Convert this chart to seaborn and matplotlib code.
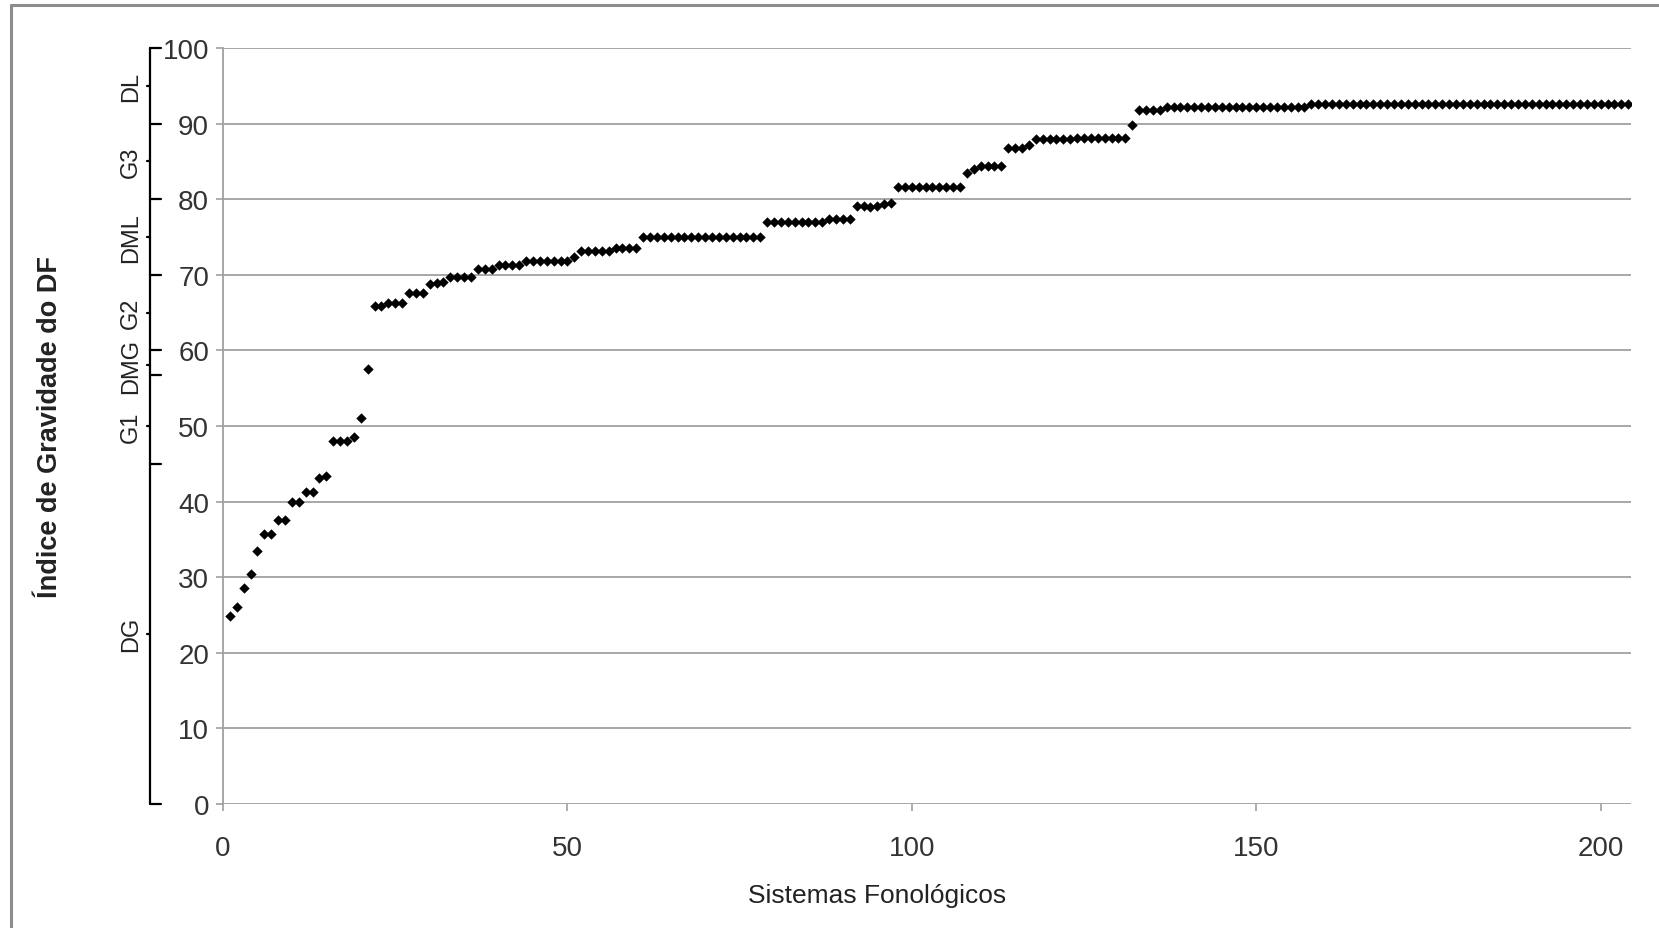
import numpy as np
import pandas as pd
import matplotlib.pyplot as plt
import seaborn as sns
from matplotlib.lines import Line2D
import matplotlib.transforms as mtransforms

# Índice de gravidade (sorted) per phonological system
indice = [
    24.8, 26.0, 28.6, 30.4, 33.5, 35.7, 35.7, 37.6, 37.6, 40.0,
    40.0, 41.2, 41.2, 43.1, 43.4, 48.0, 48.0, 48.0, 48.6, 51.0,
    57.5, 65.9, 65.9, 66.2, 66.2, 66.2, 67.6, 67.6, 67.6, 68.8,
    68.9, 69.0, 69.7, 69.7, 69.7, 69.7, 70.8, 70.8, 70.8, 71.3,
    71.3, 71.3, 71.3, 71.8, 71.8, 71.8, 71.8, 71.8, 71.8, 71.8,
    72.4, 73.2, 73.2, 73.2, 73.2, 73.2, 73.5, 73.5, 73.5, 73.5,
    75.0, 75.0, 75.0, 75.0, 75.0, 75.0, 75.0, 75.0, 75.0, 75.0,
    75.0, 75.0, 75.0, 75.0, 75.0, 75.0, 75.0, 75.0, 77.0, 77.0,
    77.0, 77.0, 77.0, 77.0, 77.0, 77.0, 77.0, 77.4, 77.4, 77.4,
    77.4, 79.1, 79.1, 78.9, 79.1, 79.4, 79.5, 81.6, 81.6, 81.6,
    81.6, 81.6, 81.6, 81.6, 81.6, 81.6, 81.6, 83.4, 84.0, 84.4,
    84.4, 84.4, 84.4, 86.8, 86.8, 86.8, 87.2, 87.9, 87.9, 87.9,
    87.9, 87.9, 87.9, 88.1, 88.1, 88.1, 88.1, 88.1, 88.1, 88.1,
    88.1, 89.8, 91.8, 91.8, 91.8, 91.8, 92.2, 92.2, 92.2, 92.2,
    92.2, 92.2, 92.2, 92.2, 92.2, 92.2, 92.2, 92.2, 92.2, 92.2,
    92.2, 92.2, 92.2, 92.2, 92.2, 92.2, 92.2, 92.6, 92.6, 92.6,
    92.6, 92.6, 92.6, 92.6, 92.6, 92.6, 92.6, 92.6, 92.6, 92.6,
    92.6, 92.6, 92.6, 92.6, 92.6, 92.6, 92.6, 92.6, 92.6, 92.6,
    92.6, 92.6, 92.6, 92.6, 92.6, 92.6, 92.6, 92.6, 92.6, 92.6,
    92.6, 92.6, 92.6, 92.6, 92.6, 92.6, 92.6, 92.6, 92.6, 92.6,
    92.6, 92.6, 92.6, 92.6,
]
sistemas = np.arange(1, len(indice) + 1)

# severity bands on the left bracket
faixas = ['DG', 'G1', 'DMG', 'G2', 'DML', 'G3', 'DL']
limites = [0, 45, 56.7, 60, 70, 80, 90, 100]
centros = [22.5, 50, 58, 65, 75, 85, 95]

df = pd.DataFrame({'Sistema': sistemas, 'Indice': indice})

sns.set_style('white')
plt.rcParams['font.family'] = ['Liberation Sans', 'DejaVu Sans']

fig = plt.figure(figsize=(16.59, 9.29), dpi=100)
ax = fig.add_axes([0.1344, 0.1335, 0.8487, 0.8138])

sns.scatterplot(data=df, x='Sistema', y='Indice', marker='D', color='black',
                s=28, linewidth=0, ax=ax, zorder=3)

ax.set_xlim(0, 204.4)
ax.set_ylim(0, 100)
ax.set_xticks([0, 50, 100, 150, 200])
ax.set_yticks(range(0, 101, 10))
ax.grid(axis='y', color='#a0a0a0', linewidth=1.3)
ax.set_axisbelow(True)
for side in ['top', 'right', 'bottom']:
    ax.spines[side].set_visible(False)
ax.spines['left'].set_color('#a0a0a0')
ax.spines['left'].set_linewidth(1.3)
ax.tick_params(axis='y', length=5, width=1.2, color='#a0a0a0', pad=5,
               labelsize=20, labelcolor='#333333', left=True)
ax.tick_params(axis='x', length=5, width=1.2, color='#a0a0a0', pad=17,
               labelsize=20, labelcolor='#333333', bottom=True)

ax.set_xlabel('Sistemas Fonológicos', fontsize=19, color='#222222')
ax.xaxis.set_label_coords(0.4645, -0.105)
ax.set_ylabel('Índice de Gravidade do DF', fontsize=19.5, fontweight='bold',
              color='#222222')
ax.yaxis.set_label_coords(-0.1136, 0.5)

# bracket with band labels left of the axis
trans = mtransforms.blended_transform_factory(ax.transAxes, ax.transData)
xb = -0.0518
ax.plot([xb, xb], [limites[0], limites[-1]], color='black', lw=1.6,
        transform=trans, clip_on=False)
for lim in limites:
    ax.plot([xb, xb + 0.008], [lim, lim], color='black', lw=1.6,
            transform=trans, clip_on=False)
for nome, c in zip(faixas, centros):
    ax.plot([xb - 0.002, xb], [c, c], color='black', lw=1.6,
            transform=trans, clip_on=False)
    ax.text(-0.0655, c, nome, rotation=90, ha='center', va='center',
            fontsize=17, color='#222222', transform=trans)

# frame of the original picture (only top and left are visible)
fig.add_artist(Line2D([0.0066, 0.0066], [0, 0.9935], color='#8c8c8c', lw=2.2))
fig.add_artist(Line2D([0.0066, 1], [0.9935, 0.9935], color='#8c8c8c', lw=2.2))

fig.savefig('out.png', dpi=100, facecolor='white')
